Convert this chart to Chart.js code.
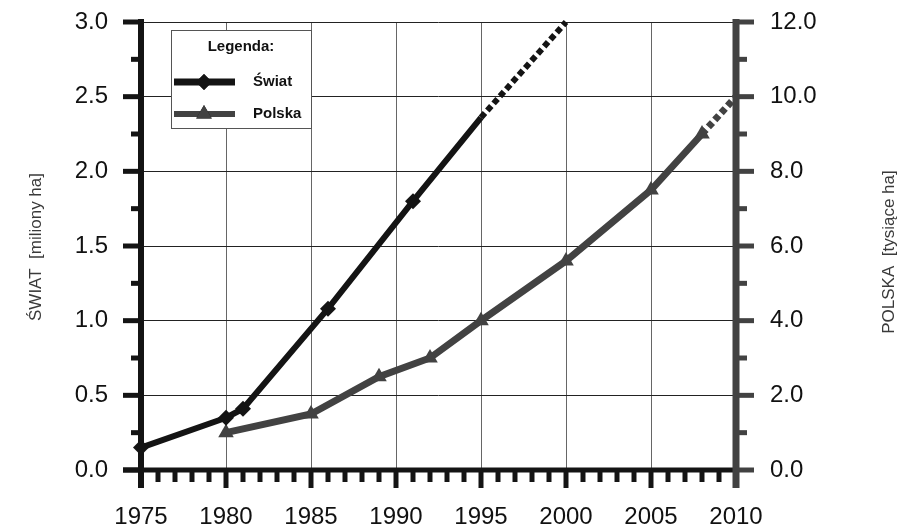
<!DOCTYPE html>
<html>
<head>
<meta charset="utf-8">
<script src="https://cdn.jsdelivr.net/npm/chart.js@4"></script>
<style>
  html, body { margin: 0; padding: 0; background: #fff; }
  #wrap { width: 899px; height: 530px; }
</style>
</head>
<body>
<div id="wrap"><canvas id="chart" width="899" height="530"></canvas></div>
<script>
// --- data ---
const swiatYears = [1975, 1980, 1981, 1986, 1991, 1995, 2000];
const swiatArea = [0.15, 0.35, 0.41, 1.08, 1.80, 2.36, 3.00];   // miliony ha
const swiatForecastFrom = 1995;

const polskaYears = [1980, 1985, 1989, 1992, 1995, 2000, 2005, 2008, 2010];
const polskaArea = [1.0, 1.5, 2.5, 3.0, 4.0, 5.6, 7.5, 9.0, 10.0]; // tysiące ha
const polskaForecastFrom = 2008;

const FONT = '"Liberation Sans", Arial, sans-serif';
const C_SWIAT = '#141414';
const C_POLSKA = '#424242';

const toPoints = (xs, ys) => xs.map((x, i) => ({ x, y: ys[i] }));

function series(label, xs, ys, color, axis, style, radius, width, forecastFrom) {
  return {
    label,
    data: toPoints(xs, ys),
    yAxisID: axis,
    borderColor: color,
    backgroundColor: color,
    borderWidth: width,
    borderCapStyle: 'butt',
    tension: 0,
    fill: false,
    clip: false,
    pointStyle: style,
    pointBorderWidth: 0,
    pointBackgroundColor: color,
    // no marker on the projected (dashed) part
    pointRadius: (c) => (c.raw && c.raw.x > forecastFrom) || (c.raw && c.raw.x === forecastFrom && style === 'rectRot') ? 0 : radius,
    segment: {
      borderDash: (c) => c.p0.parsed.x >= forecastFrom ? [6, 3.5] : undefined
    }
  };
}

// no extra room for half labels: chart area is placed by hand
const fixY = (w) => (s) => { s.width = w; s.paddingTop = 0; s.paddingBottom = 0; };

// axes, tick marks, titles and the legend box
const frame = {
  id: 'frame',
  beforeDatasetsDraw(chart) {
    const ctx = chart.ctx;
    const { x, y, y1 } = chart.scales;
    const left = x.getPixelForValue(1975), right = x.getPixelForValue(2010);
    const base = y.getPixelForValue(0), top = y.getPixelForValue(3);
    ctx.save();
    ctx.lineCap = 'butt';

    // bottom axis
    ctx.strokeStyle = C_SWIAT;
    ctx.lineWidth = 5;
    ctx.beginPath(); ctx.moveTo(left - 18, base); ctx.lineTo(right, base); ctx.stroke();
    for (let yr = 1976; yr < 2010; yr++) {
      const px = x.getPixelForValue(yr);
      const len = yr % 5 === 0 ? 18 : 12;
      ctx.beginPath(); ctx.moveTo(px, base); ctx.lineTo(px, base + len); ctx.stroke();
    }

    // left axis
    ctx.lineWidth = 6;
    ctx.beginPath(); ctx.moveTo(left, top - 3); ctx.lineTo(left, base + 18); ctx.stroke();
    ctx.lineWidth = 5;
    for (let v = 0; v <= 3.001; v += 0.25) {
      const py = y.getPixelForValue(v);
      const len = Math.abs(v * 2 - Math.round(v * 2)) < 1e-6 ? 18 : 10;
      ctx.beginPath(); ctx.moveTo(left, py); ctx.lineTo(left - len, py); ctx.stroke();
    }

    // right axis
    ctx.strokeStyle = C_POLSKA;
    ctx.lineWidth = 7;
    ctx.beginPath(); ctx.moveTo(right, top - 3); ctx.lineTo(right, base + 18); ctx.stroke();
    ctx.lineWidth = 5;
    for (let v = 0; v <= 12; v += 1) {
      const py = y1.getPixelForValue(v);
      const len = v % 2 === 0 ? 18 : 11;
      ctx.beginPath(); ctx.moveTo(right, py); ctx.lineTo(right + len, py); ctx.stroke();
    }

    // axis titles
    ctx.fillStyle = '#3a3a3a';
    ctx.font = '17px ' + FONT;
    ctx.textAlign = 'center';
    ctx.textBaseline = 'middle';
    ctx.save();
    ctx.translate(36, 247); ctx.rotate(-Math.PI / 2);
    ctx.fillText('ŚWIAT  [miliony ha]', 0, 0);
    ctx.restore();
    ctx.save();
    ctx.translate(889, 252); ctx.rotate(-Math.PI / 2);
    ctx.fillText('POLSKA  [tysiące ha]', 0, 0);
    ctx.restore();
    ctx.restore();
  },
  afterDatasetsDraw(chart) {
    const ctx = chart.ctx;
    ctx.save();
    // legend box
    ctx.fillStyle = '#fff';
    ctx.fillRect(171, 30, 141, 99);
    ctx.strokeStyle = '#555';
    ctx.lineWidth = 1;
    ctx.strokeRect(171.5, 30.5, 140, 98);

    ctx.fillStyle = '#111';
    ctx.font = 'bold 15px ' + FONT;
    ctx.textAlign = 'center';
    ctx.textBaseline = 'middle';
    ctx.fillText('Legenda:', 241, 47);

    chart.data.datasets.forEach((ds, i) => {
      const cy = i === 0 ? 82 : 114;
      ctx.strokeStyle = ds.borderColor;
      ctx.lineWidth = i === 0 ? 7 : 6;
      ctx.beginPath(); ctx.moveTo(174, cy); ctx.lineTo(235, cy); ctx.stroke();
      Chart.helpers.drawPoint(ctx, {
        pointStyle: ds.pointStyle, radius: i === 0 ? 8 : 9, borderWidth: 0, rotation: 0
      }, 204, cy);
      ctx.fillStyle = ds.borderColor;
      ctx.fill();
      ctx.fillStyle = '#111';
      ctx.font = 'bold 15px ' + FONT;
      ctx.textAlign = 'left';
      ctx.fillText(ds.label, 253, cy);
    });
    ctx.restore();
  }
};

new Chart(document.getElementById('chart'), {
  type: 'line',
  data: {
    datasets: [
      series('Świat', swiatYears, swiatArea, C_SWIAT, 'y', 'rectRot', 8, 6, swiatForecastFrom),
      series('Polska', polskaYears, polskaArea, C_POLSKA, 'y1', 'triangle', 9, 7, polskaForecastFrom)
    ]
  },
  options: {
    responsive: false,
    animation: false,
    devicePixelRatio: 1,
    layout: { padding: { top: 22, left: 0, right: 0, bottom: 0 } },
    plugins: { legend: { display: false }, tooltip: { enabled: false } },
    scales: {
      x: {
        type: 'linear', min: 1975, max: 2010,
        afterFit: (s) => { s.height = 60; s.paddingLeft = 0; s.paddingRight = 0; },
        border: { display: false },
        grid: { color: '#666', lineWidth: 1, drawTicks: false },
        ticks: { stepSize: 5, padding: 33, color: '#111', font: { family: FONT, size: 24 },
                 callback: (v) => String(v), maxRotation: 0 }
      },
      y: {
        position: 'left', min: 0, max: 3,
        afterFit: fixY(141),
        border: { display: false },
        grid: { color: '#222', lineWidth: 1, drawTicks: false },
        ticks: { stepSize: 0.5, padding: 33, color: '#111', font: { family: FONT, size: 24 },
                 callback: (v) => v.toFixed(1) }
      },
      y1: {
        position: 'right', min: 0, max: 12,
        afterFit: fixY(163),
        border: { display: false },
        grid: { display: false, drawTicks: false },
        ticks: { stepSize: 2, padding: 34, color: '#111', font: { family: FONT, size: 24 },
                 callback: (v) => v.toFixed(1) }
      }
    }
  },
  plugins: [frame]
});
</script>
</body>
</html>
